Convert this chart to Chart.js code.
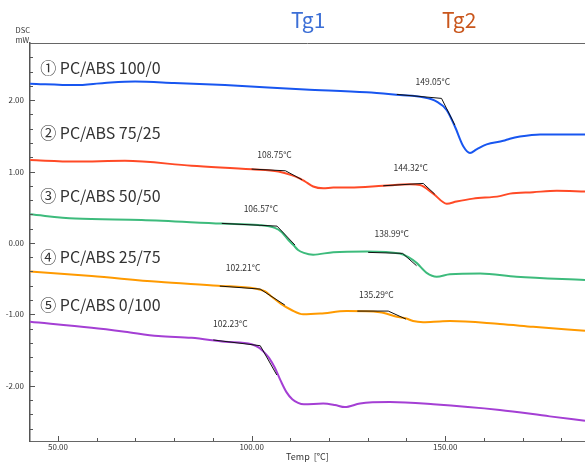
<!DOCTYPE html>
<html>
<head>
<meta charset="utf-8">
<script src="https://cdn.jsdelivr.net/npm/chart.js@4/dist/chart.umd.min.js"></script>
<style>
  html, body { margin: 0; padding: 0; background: #fff; }
</style>
</head>
<body>
<canvas id="dsc" width="585" height="462"></canvas>
<script>
// DSC thermograms, temperature [°C] vs heat flow [mW]
const temp1 = [42.8, 54.4, 62.0, 69.9, 80.0, 93.1, 113.8, 129.7, 138.3, 144.3, 147.8, 150.4, 152.5, 154.7, 156.4, 158.1, 160.7, 165.0, 166.7, 169.3, 174.5, 186.1];
const dsc1 = [2.23, 2.21, 2.24, 2.26, 2.24, 2.21, 2.15, 2.11, 2.07, 2.04, 1.98, 1.86, 1.63, 1.35, 1.26, 1.31, 1.38, 1.43, 1.46, 1.49, 1.52, 1.52];

const temp2 = [42.8, 54.4, 67.3, 84.5, 100.0, 106.9, 110.3, 112.5, 113.8, 115.9, 118.5, 121.1, 125.4, 134.0, 140.9, 143.5, 146.9, 150.4, 152.9, 157.2, 164.1, 166.7, 172.7, 178.8, 186.1];
const dsc2 = [1.16, 1.14, 1.15, 1.08, 1.03, 1.00, 0.95, 0.90, 0.86, 0.79, 0.765, 0.775, 0.775, 0.80, 0.82, 0.81, 0.69, 0.55, 0.58, 0.62, 0.655, 0.69, 0.71, 0.73, 0.72];

const temp3 = [42.8, 54.4, 71.6, 92.3, 101.7, 106.0, 107.8, 109.5, 110.8, 112.0, 113.5, 115.9, 121.1, 129.7, 138.3, 140.5, 142.6, 145.2, 147.8, 151.2, 159.0, 168.4, 186.1];
const dsc3 = [0.40, 0.34, 0.32, 0.27, 0.25, 0.21, 0.15, 0.04, -0.03, -0.10, -0.14, -0.165, -0.13, -0.12, -0.15, -0.20, -0.28, -0.42, -0.475, -0.44, -0.43, -0.475, -0.52];

const temp4 = [42.8, 58.7, 75.9, 91.4, 100.9, 103.5, 105.2, 107.5, 110.3, 113.3, 117.7, 124.5, 133.1, 137.5, 140.0, 141.7, 144.3, 148.6, 151.2, 164.1, 172.7, 186.1];
const dsc4 = [-0.40, -0.465, -0.545, -0.60, -0.64, -0.68, -0.754, -0.85, -0.94, -1.00, -0.99, -0.955, -0.97, -1.035, -1.06, -1.095, -1.11, -1.10, -1.095, -1.137, -1.175, -1.23];

const temp5 = [42.8, 58.7, 67.3, 75.9, 84.5, 93.1, 100.0, 102.0, 103.2, 104.5, 106.0, 107.5, 109.0, 110.5, 112.0, 113.5, 118.5, 121.5, 124.1, 128.0, 135.7, 146.9, 164.1, 177.0, 186.1];
const dsc5 = [-1.105, -1.19, -1.245, -1.305, -1.33, -1.385, -1.42, -1.47, -1.53, -1.61, -1.75, -1.93, -2.09, -2.19, -2.24, -2.26, -2.25, -2.27, -2.30, -2.25, -2.23, -2.26, -2.34, -2.43, -2.49];

const sampleNames = ['① PC/ABS 100/0', '② PC/ABS 75/25', '③ PC/ABS 50/50', '④ PC/ABS 25/75', '⑤ PC/ABS 0/100'];
const sampleColors = ['#1856f0', '#ff4a26', '#3dbb7c', '#ff9a00', '#a43fd4'];
const sampleLabelT = [45.4, 45.4, 45.4, 45.4, 45.4];
const sampleLabelV = [2.444, 1.542, 0.655, -0.203, -0.871];

// onset construction: baseline tangent -> Tg point -> inflection tangent
const tangentT = [[137.5, 149.05, 152.5], [100.0, 108.75, 113.0], [134.0, 144.32, 147.3], [92.3, 106.57, 111.2],
                  [130.1, 138.99, 142.6], [91.8, 102.21, 108.6], [127.3, 135.29, 139.85], [90.1, 102.23, 106.5]];
const tangentV = [[2.08, 2.024, 1.65], [1.034, 1.01, 0.886], [0.80, 0.833, 0.683], [0.273, 0.235, -0.03],
                  [-0.133, -0.147, -0.32], [-0.605, -0.647, -0.871], [-0.955, -0.955, -1.067], [-1.36, -1.44, -1.85]];
const tgText = ['149.05°C', '108.75°C', '144.32°C', '106.57°C', '138.99°C', '102.21°C', '135.29°C', '102.23°C'];
const tgLabelT = [146.8, 105.9, 141.1, 102.4, 136.2, 97.8, 132.2, 94.5];
const tgLabelV = [2.25, 1.24, 1.057, 0.473, 0.123, -0.353, -0.721, -1.127];

const headText = ['Tg1', 'Tg2'];
const headColors = ['#3c6fd6', '#c9561c'];
const headT = [114.6, 153.6];

const xTicks = [50, 100, 150];
const yTicks = [-2, -1, 0, 1, 2];
const xMinorStep = 10;
const yMinorStep = 0.2;

const FONT = '"Noto Sans CJK JP", "Noto Sans", sans-serif';

const temps = [temp1, temp2, temp3, temp4, temp5];
const values = [dsc1, dsc2, dsc3, dsc4, dsc5];

const datasets = [];
temps.forEach((t, i) => {
  datasets.push({
    data: t.map((x, k) => ({ x: x, y: values[i][k] })),
    borderColor: sampleColors[i],
    borderWidth: 2,
    cubicInterpolationMode: 'monotone',
    order: 2
  });
});
tangentT.forEach((t, i) => {
  datasets.push({
    data: t.map((x, k) => ({ x: x, y: tangentV[i][k] })),
    borderColor: '#111',
    borderWidth: 1,
    tension: 0,
    order: 1
  });
});

const decorations = {
  id: 'decorations',
  afterDatasetsDraw(chart) {
    const { ctx, chartArea: a, scales: { x, y } } = chart;
    ctx.save();
    // frame top
    ctx.strokeStyle = '#666';
    ctx.lineWidth = 1;
    ctx.beginPath();
    ctx.moveTo(a.left, a.top + 0.5);
    ctx.lineTo(a.right, a.top + 0.5);
    ctx.stroke();

    // inward tick marks
    ctx.strokeStyle = '#555';
    ctx.beginPath();
    for (let v = Math.ceil(x.min / xMinorStep) * xMinorStep; v <= x.max; v += xMinorStep) {
      const px = Math.round(x.getPixelForValue(v)) + 0.5;
      const len = xTicks.includes(v) ? 5 : 3;
      ctx.moveTo(px, a.bottom);
      ctx.lineTo(px, a.bottom - len);
    }
    for (let k = Math.ceil(y.min / yMinorStep); k * yMinorStep <= y.max; k++) {
      const v = Math.round(k * yMinorStep * 10) / 10;
      const py = Math.round(y.getPixelForValue(v)) + 0.5;
      const len = yTicks.includes(v) ? 5 : 3;
      ctx.moveTo(a.left, py);
      ctx.lineTo(a.left + len, py);
    }
    ctx.stroke();

    // sample names
    ctx.fillStyle = '#333';
    ctx.font = '16px ' + FONT;
    ctx.textAlign = 'left';
    ctx.textBaseline = 'middle';
    sampleNames.forEach((s, i) => {
      ctx.fillText(s, x.getPixelForValue(sampleLabelT[i]), y.getPixelForValue(sampleLabelV[i]));
    });

    // Tg values
    ctx.font = '8.5px ' + FONT;
    ctx.textAlign = 'center';
    tgText.forEach((s, i) => {
      ctx.fillText(s, x.getPixelForValue(tgLabelT[i]), y.getPixelForValue(tgLabelV[i]));
    });

    // Tg1 / Tg2 headers
    ctx.font = '21px ' + FONT;
    headText.forEach((s, i) => {
      ctx.fillStyle = headColors[i];
      ctx.fillText(s, x.getPixelForValue(headT[i]), a.top - 23);
    });

    // y axis unit
    ctx.fillStyle = '#333';
    ctx.font = '7.5px ' + FONT;
    ctx.textAlign = 'right';
    ctx.fillText('DSC', a.left, a.top - 13);
    ctx.fillText('mW', a.left - 1, a.top - 3);
    ctx.restore();
  }
};

new Chart(document.getElementById('dsc').getContext('2d'), {
  type: 'line',
  data: { datasets: datasets },
  options: {
    responsive: false,
    animation: false,
    layout: { padding: { top: 43, right: 0, bottom: 0, left: 0 } },
    elements: { point: { radius: 0 } },
    plugins: { legend: { display: false }, tooltip: { enabled: false } },
    scales: {
      x: {
        type: 'linear',
        min: 42.77,
        max: 186.1,
        afterBuildTicks: s => { s.ticks = xTicks.map(v => ({ value: v })); },
        afterFit: s => { s.height = 21; },
        grid: { display: false, drawTicks: false },
        border: { color: '#666', width: 1 },
        ticks: {
          padding: 1,
          maxRotation: 0,
          color: '#333',
          font: { size: 8, family: FONT },
          callback: v => v.toFixed(2)
        },
        title: {
          display: true,
          text: 'Temp  [°C]',
          color: '#333',
          padding: 0,
          font: { size: 9, family: FONT }
        }
      },
      y: {
        type: 'linear',
        min: -2.775,
        max: 2.80,
        afterBuildTicks: s => { s.ticks = yTicks.map(v => ({ value: v })); },
        afterFit: s => { s.width = 30; },
        grid: { display: false, drawTicks: false },
        border: { color: '#555', width: 1.5 },
        ticks: {
          padding: 6,
          color: '#333',
          font: { size: 8, family: FONT },
          callback: v => v.toFixed(2)
        }
      }
    }
  },
  plugins: [decorations]
});
</script>
</body>
</html>
